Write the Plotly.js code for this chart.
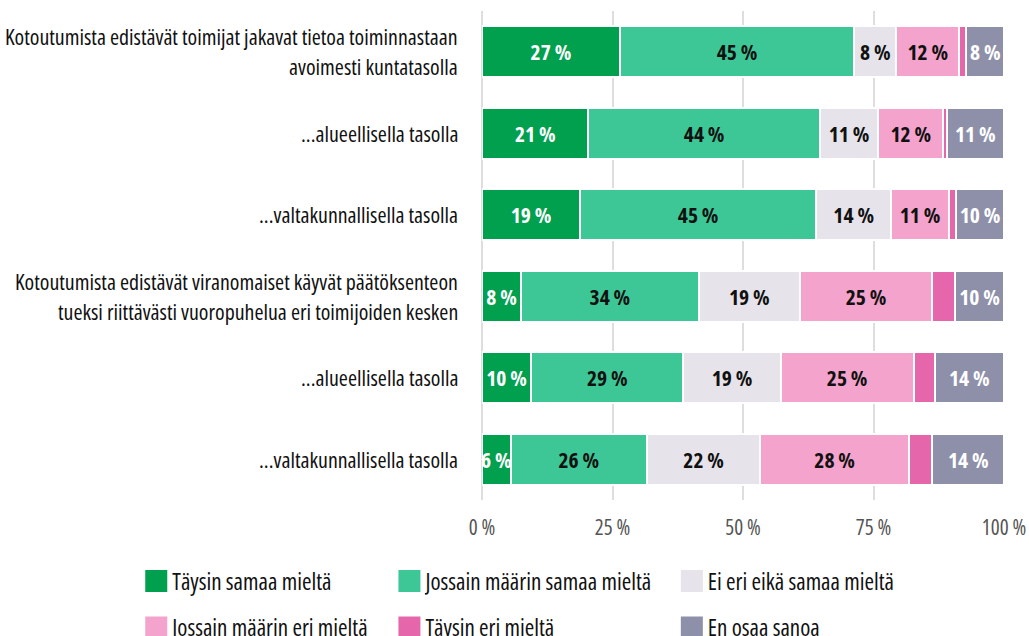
<!DOCTYPE html>
<html>
<head>
<meta charset="utf-8">
<script src="https://cdn.plot.ly/plotly-3.0.1.min.js"></script>
<style>
html,body{margin:0;padding:0;background:#fff;}
#chart{width:1029px;height:636px;}
text{font-stretch:78% !important;}
#chart .legendpoints path{transform:translate(24px,0) scale(2.2);}
</style>
</head>
<body>
<div id="chart"></div>
<script>
// Row labels (top to bottom)
const rowLabels = [
  "Kotoutumista edistävät toimijat jakavat tietoa toiminnastaan<br>avoimesti kuntatasolla",
  "...alueellisella tasolla",
  "...valtakunnallisella tasolla",
  "Kotoutumista edistävät viranomaiset käyvät päätöksenteon<br>tueksi riittävästi vuoropuhelua eri toimijoiden kesken",
  "...alueellisella tasolla",
  "...valtakunnallisella tasolla"
];

const seriesNames = [
  "Täysin samaa mieltä",
  "Jossain määrin samaa mieltä",
  "Ei eri eikä samaa mieltä",
  "Jossain määrin eri mieltä",
  "Täysin eri mieltä",
  "En osaa sanoa"
];

// Shares (%) per series, rows top to bottom
const taysinSamaa   = [26.4, 20.4, 18.8, 7.5, 9.4, 5.5];
const jossainSamaa  = [44.9, 44.3, 45.2, 34.0, 29.2, 26.1];
const eiEriEikaSama = [8.1, 11.2, 14.4, 19.4, 18.6, 21.7];
const jossainEri    = [12.0, 12.5, 11.0, 25.3, 25.5, 28.5];
const taysinEri     = [1.4, 0.6, 1.4, 4.4, 4.0, 4.5];
const enOsaa        = [7.2, 11.0, 9.2, 9.4, 13.3, 13.7];

// Printed bar labels
const lblTaysinSamaa   = ["27 %", "21 %", "19 %", "8 %", "10 %", "6 %"];
const lblJossainSamaa  = ["45 %", "44 %", "45 %", "34 %", "29 %", "26 %"];
const lblEiEriEikaSama = ["8 %", "11 %", "14 %", "19 %", "19 %", "22 %"];
const lblJossainEri    = ["12 %", "12 %", "11 %", "25 %", "25 %", "28 %"];
const lblTaysinEri     = ["", "", "", "", "", ""];
const lblEnOsaa        = ["8 %", "11 %", "10 %", "10 %", "14 %", "14 %"];

const xTickVals = [0, 25, 50, 75, 100];
const xTickText = ["0 %", "25 %", "50 %", "75 %", "100 %"];

const FONT = '"Open Sans", "Lato", sans-serif';

const seriesValues = [taysinSamaa, jossainSamaa, eiEriEikaSama, jossainEri, taysinEri, enOsaa];
const seriesLabels = [lblTaysinSamaa, lblJossainSamaa, lblEiEriEikaSama, lblJossainEri, lblTaysinEri, lblEnOsaa];
const colors = ["#00a04f", "#3ec796", "#e6e4ea", "#f3a3cc", "#e666ab", "#8e90aa"];
const textColors = ["#ffffff", "#111111", "#111111", "#111111", "#111111", "#ffffff"];
const legendIds = ["legend", "legend2", "legend3", "legend", "legend2", "legend3"];

const yIdx = rowLabels.map((_, i) => i);

const traces = seriesValues.map((vals, s) => ({
  type: "bar",
  orientation: "h",
  name: seriesNames[s],
  x: vals,
  y: yIdx,
  text: seriesLabels[s],
  textposition: "inside",
  insidetextanchor: "middle",
  constraintext: "none",
  textangle: 0,
  textfont: {family: FONT, size: 21.5, color: textColors[s], weight: "bold"},
  marker: {color: colors[s], line: {color: "#ffffff", width: 2}},
  legend: legendIds[s],
  legendgroup: "g" + s,
  hoverinfo: "name+x"
}));

const annotations = [];
rowLabels.forEach((lab, i) => {
  const lines = lab.split("<br>");
  const n = lines.length;
  lines.forEach((ln, j) => {
    annotations.push({
      xref: "paper", yref: "y",
      x: 0, y: i,
      xanchor: "right", yanchor: "middle",
      xshift: -22,
      yshift: ((n - 1) / 2 - j) * 30,
      text: ln,
      showarrow: false,
      font: {family: FONT, size: 21.9, color: "#111111"}
    });
  });
});

const legendCommon = {
  orientation: "v",
  traceorder: "grouped",
  tracegroupgap: 13.5,
  font: {family: FONT, size: 23, color: "#111111"},
  bgcolor: "rgba(0,0,0,0)",
  xanchor: "left",
  yanchor: "top",
  y: -0.122
};

const layout = {
  width: 1029,
  height: 636,
  margin: {l: 482, r: 25, t: 11, b: 136, autoexpand: false},
  paper_bgcolor: "#ffffff",
  plot_bgcolor: "#ffffff",
  barmode: "stack",
  bargap: 0.37,
  font: {family: FONT, size: 18, color: "#111111"},
  xaxis: {
    range: [0, 100],
    tickvals: xTickVals,
    ticktext: xTickText,
    showgrid: true,
    gridcolor: "#dedede",
    gridwidth: 2,
    zeroline: true,
    zerolinecolor: "#dedede",
    zerolinewidth: 2,
    showline: false,
    ticks: "outside",
    ticklen: 9,
    tickcolor: "rgba(0,0,0,0)",
    ticklabeloverflow: "allow",
    tickfont: {family: FONT, size: 21, color: "#555555"},
    fixedrange: true
  },
  yaxis: {
    range: [5.5, -0.5],
    showticklabels: false,
    showgrid: false,
    zeroline: false,
    ticks: "",
    fixedrange: true
  },
  annotations: annotations,
  legend:  Object.assign({}, legendCommon, {x: -0.670}),
  legend2: Object.assign({}, legendCommon, {x: -0.185}),
  legend3: Object.assign({}, legendCommon, {x: 0.356}),
  showlegend: true
};

Plotly.newPlot("chart", traces, layout, {displayModeBar: false, staticPlot: true});
</script>
</body>
</html>
